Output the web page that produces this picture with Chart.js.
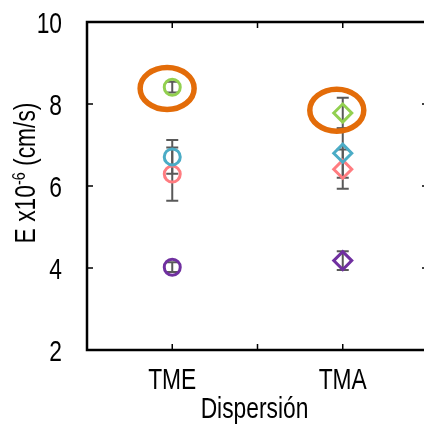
<!DOCTYPE html>
<html>
<head>
<meta charset="utf-8">
<script src="https://cdn.jsdelivr.net/npm/chart.js@4.4.0/dist/chart.umd.min.js"></script>
<style>
  html, body { margin: 0; padding: 0; background: #fff; overflow: hidden; }
  #wrap { width: 434px; height: 425px; }
</style>
</head>
<body>
<div id="wrap"><canvas id="chart" width="434" height="425"></canvas></div>
<script>
"use strict";

// data
const categories = ["TME", "TMA"];
const yTicks = [2, 4, 6, 8, 10];
const xTitle = "Dispersión";

const greenValues = [8.41, 7.78];
const greenErrors = [0.13, 0.37];
const blueValues = [6.71, 6.80];
const blueErrors = [0.41, 0.60];
const pinkValues = [6.29, 6.41];
const pinkErrors = [0.65, 0.48];
const purpleValues = [4.02, 4.18];
const purpleErrors = [0.12, 0.23];

// orange highlight rings (data units)
const ringX = [0.94, 2.93];
const ringY = [8.38, 7.85];

// styles
const FONT = "'Liberation Sans', Arial, sans-serif";
const NARROW = 0.76; // squeeze text like Arial Narrow
const colors = {
  green: "#92D050",
  blue: "#4BACC6",
  pink: "#FF7C80",
  purple: "#7030A0",
  ring: "#E36C09",
  err: "#595959",
};

const catX = (i) => 2 * i + 1;

function makeSet(name, values, errors, color) {
  return {
    label: name,
    data: values.map((v, i) => ({ x: catX(i), y: v, err: errors[i] })),
    borderColor: color,
    backgroundColor: "rgba(0,0,0,0)",
    borderWidth: 3,
    pointStyle: ["circle", "rectRot"],
    pointRadius: [8, 9],
    pointHoverRadius: [8, 9],
    showLine: false,
  };
}

function narrowText(ctx, text, x, y, align, size) {
  ctx.save();
  ctx.translate(x, y);
  ctx.scale(NARROW, 1);
  ctx.font = size + "px " + FONT;
  ctx.textAlign = align;
  ctx.textBaseline = "alphabetic";
  ctx.fillStyle = "#000";
  ctx.fillText(text, 0, 0);
  ctx.restore();
}

// error bars under the markers
const errorBars = {
  id: "errorBars",
  beforeDatasetsDraw(chart) {
    const { ctx, scales: { x, y } } = chart;
    ctx.save();
    ctx.strokeStyle = colors.err;
    ctx.lineWidth = 2;
    chart.data.datasets.forEach((ds) => {
      ds.data.forEach((pt) => {
        const px = x.getPixelForValue(pt.x);
        const top = y.getPixelForValue(pt.y + pt.err);
        const bot = y.getPixelForValue(pt.y - pt.err);
        ctx.beginPath();
        ctx.moveTo(px, top);
        ctx.lineTo(px, bot);
        ctx.moveTo(px - 6, top);
        ctx.lineTo(px + 6, top);
        ctx.moveTo(px - 6, bot);
        ctx.lineTo(px + 6, bot);
        ctx.stroke();
      });
    });
    ctx.restore();
  },
};

// box + inward ticks, rings, labels
const decorations = {
  id: "decorations",
  afterDraw(chart) {
    const { ctx, chartArea: a, scales: { x, y } } = chart;
    ctx.save();

    ctx.strokeStyle = "#000";
    ctx.lineWidth = 2.5;
    ctx.strokeRect(a.left, a.top, a.right - a.left, a.bottom - a.top);

    ctx.lineWidth = 1.5;
    ctx.beginPath();
    [1, 2, 3].forEach((v) => {
      const px = x.getPixelForValue(v);
      ctx.moveTo(px, a.bottom);
      ctx.lineTo(px, a.bottom - 6);
      ctx.moveTo(px, a.top);
      ctx.lineTo(px, a.top + 6);
    });
    yTicks.slice(1, -1).forEach((v) => {
      const py = y.getPixelForValue(v);
      ctx.moveTo(a.left, py);
      ctx.lineTo(a.left + 6, py);
      ctx.moveTo(a.right, py);
      ctx.lineTo(a.right - 6, py);
    });
    ctx.stroke();

    // orange rings
    ctx.strokeStyle = colors.ring;
    ctx.lineWidth = 5.5;
    ringX.forEach((rx, i) => {
      ctx.beginPath();
      ctx.ellipse(x.getPixelForValue(rx), y.getPixelForValue(ringY[i]), 27, 21, 0, 0, Math.PI * 2);
      ctx.stroke();
    });
    ctx.restore();

    // tick labels
    yTicks.forEach((v) => {
      narrowText(ctx, String(v), a.left - 25, y.getPixelForValue(v) + 11, "right", 30);
    });
    categories.forEach((c, i) => {
      narrowText(ctx, c, x.getPixelForValue(catX(i)), a.bottom + 39, "center", 30);
    });
    narrowText(ctx, xTitle, (a.left + a.right) / 2 - 3, a.bottom + 68, "center", 30);

    // y title with superscript
    ctx.save();
    ctx.translate(35, (a.top + a.bottom) / 2 - 13);
    ctx.rotate(-Math.PI / 2);
    ctx.scale(NARROW, 1);
    ctx.fillStyle = "#000";
    ctx.textBaseline = "alphabetic";
    ctx.textAlign = "left";
    const big = "30px " + FONT;
    const small = "19px " + FONT;
    ctx.font = big;
    const w1 = ctx.measureText("E x10").width;
    const w3 = ctx.measureText(" (cm/s)").width;
    ctx.font = small;
    const w2 = ctx.measureText("-6").width;
    const start = -(w1 + w2 + w3) / 2;
    ctx.font = big;
    ctx.fillText("E x10", start, 0);
    ctx.font = small;
    ctx.fillText("-6", start + w1, -10);
    ctx.font = big;
    ctx.fillText(" (cm/s)", start + w1 + w2, 0);
    ctx.restore();
  },
};

const ctx = document.getElementById("chart").getContext("2d");
const chart = new Chart(ctx, {
  type: "scatter",
  data: {
    datasets: [
      makeSet("green", greenValues, greenErrors, colors.green),
      makeSet("blue", blueValues, blueErrors, colors.blue),
      makeSet("pink", pinkValues, pinkErrors, colors.pink),
      makeSet("purple", purpleValues, purpleErrors, colors.purple),
    ],
  },
  options: {
    responsive: false,
    animation: false,
    devicePixelRatio: 1,
    layout: { autoPadding: false, padding: { top: 22, right: 6, left: 0, bottom: 0 } },
    plugins: {
      legend: { display: false },
      tooltip: { enabled: false },
    },
    scales: {
      x: {
        type: "linear",
        min: 0,
        max: 4,
        afterFit: (scale) => {
          scale.height = 75;
        },
        grid: { display: false, drawTicks: false },
        border: { display: false },
        ticks: { display: false },
      },
      y: {
        min: 2,
        max: 10,
        afterFit: (scale) => {
          scale.width = 87;
        },
        grid: { display: false, drawTicks: false },
        border: { display: false },
        ticks: { display: false },
      },
    },
  },
  plugins: [errorBars, decorations],
});
</script>
</body>
</html>
